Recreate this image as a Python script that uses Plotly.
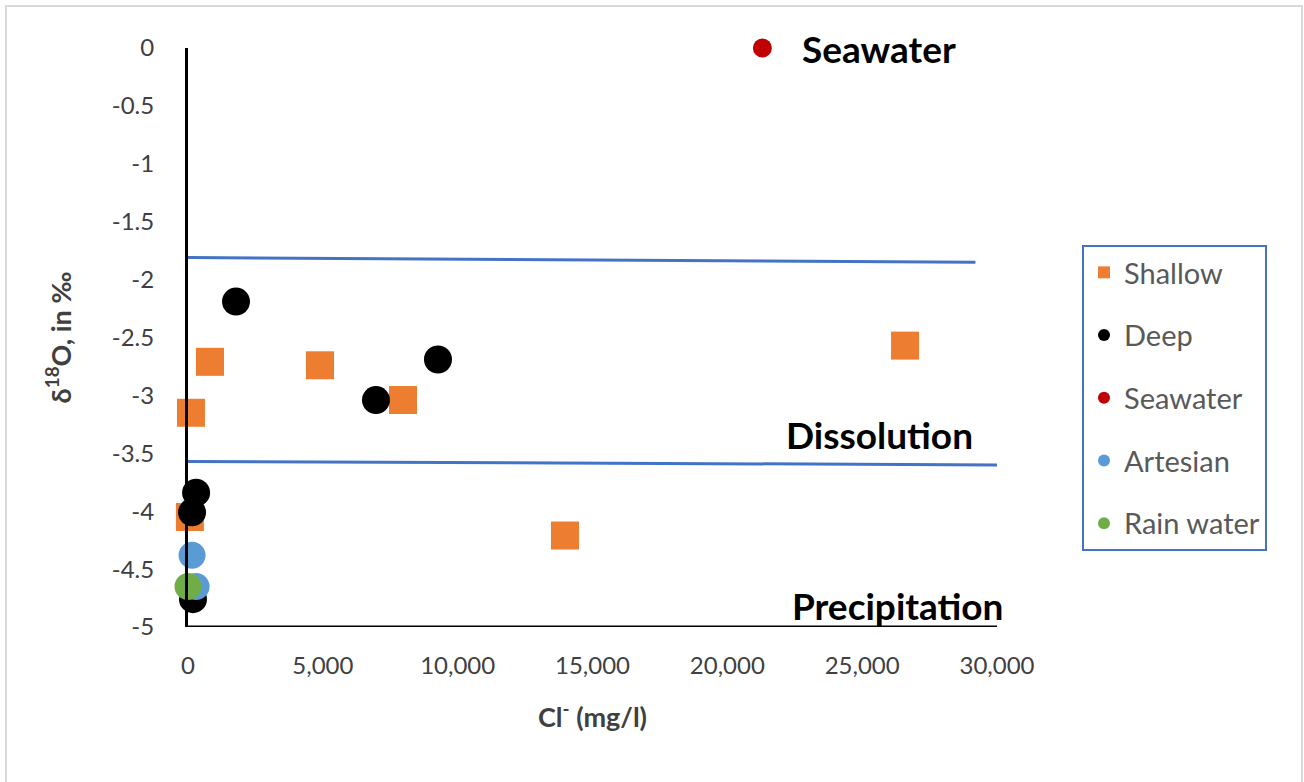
import plotly.graph_objects as go

# ---- data ----
shallow_x = [110, 816, 4895, 7973, 13980, 26590, 70]
shallow_y = [-3.15, -2.71, -2.74, -3.04, -4.21, -2.57, -4.05]

deep_x = [1780, 6970, 9270, 300, 150, 185]
deep_y = [-2.19, -3.04, -2.69, -3.84, -4.01, -4.76]

seawater_x = [21300]
seawater_y = [0.0]

artesian_x = [150, 300]
artesian_y = [-4.38, -4.65]

rain_x = [0]
rain_y = [-4.65]

upper_line_x = [0, 29200]
upper_line_y = [-1.81, -1.85]
lower_line_x = [0, 30000]
lower_line_y = [-3.57, -3.60]

x_ticks = [0, 5000, 10000, 15000, 20000, 25000, 30000]
y_ticks = [0, -0.5, -1, -1.5, -2, -2.5, -3, -3.5, -4, -4.5, -5]
y_tick_text = ["0", "-0.5", "-1", "-1.5", "-2", "-2.5", "-3", "-3.5", "-4", "-4.5", "-5"]

# ---- layout geometry ----
W, H = 1304, 782
L, R, T, B = 188, 307, 48, 155
PW, PH = W - L - R, H - T - B

def px(x):
    return (x - L) / PW

def py(y):
    return 1 - (y - T) / PH

FONT = "Lato"
BLUE = "#4472C4"
ORANGE = "#ED7D31"
TXT = "#404040"

fig = go.Figure()

fig.add_trace(go.Scatter(x=upper_line_x, y=upper_line_y, mode="lines",
                         line=dict(color=BLUE, width=3), showlegend=False, hoverinfo="skip"))
fig.add_trace(go.Scatter(x=lower_line_x, y=lower_line_y, mode="lines",
                         line=dict(color=BLUE, width=3), showlegend=False, hoverinfo="skip"))

fig.add_trace(go.Scatter(x=shallow_x, y=shallow_y, mode="markers", name="Shallow",
                         legendgroup="a",
                         marker=dict(symbol="square", size=28, color=ORANGE)))
fig.add_trace(go.Scatter(x=deep_x, y=deep_y, mode="markers", name="Deep",
                         legendgroup="b",
                         marker=dict(symbol="circle", size=28, color="black")))
fig.add_trace(go.Scatter(x=seawater_x, y=seawater_y, mode="markers", name="Seawater",
                         legendgroup="c",
                         marker=dict(symbol="circle", size=19, color="#C00000")))
fig.add_trace(go.Scatter(x=artesian_x, y=artesian_y, mode="markers", name="Artesian",
                         legendgroup="d",
                         marker=dict(symbol="circle", size=27, color="#5B9BD5")))
fig.add_trace(go.Scatter(x=rain_x, y=rain_y, mode="markers", name="Rain water",
                         legendgroup="e",
                         marker=dict(symbol="circle", size=27, color="#70AD47")))

for tr in fig.data:
    tr.cliponaxis = False

LBL = dict(family=FONT, size=37, color="black")
annotations = [
    dict(x=px(800), y=py(48), xref="paper", yref="paper", text="<b>Seawater</b>", showarrow=False,
         xanchor="left", yanchor="middle", font=LBL),
    dict(x=px(975), y=py(434), xref="paper", yref="paper", text="<b>Dissolution</b>", showarrow=False,
         xanchor="right", yanchor="middle", font=LBL),
    dict(x=px(1006), y=py(605), xref="paper", yref="paper", text="<b>Precipitation</b>", showarrow=False,
         xanchor="right", yanchor="middle", font=LBL),
]

shapes = [
    dict(type="rect", xref="paper", yref="paper", x0=px(6), x1=px(1302), y0=py(6), y1=py(790),
         line=dict(color="#D9D9D9", width=2), fillcolor="rgba(0,0,0,0)", layer="below"),
]

fig.update_layout(
    width=W, height=H,
    margin=dict(l=L, r=R, t=T, b=B),
    paper_bgcolor="white", plot_bgcolor="white",
    font=dict(family=FONT, size=24, color=TXT),
    xaxis=dict(range=[0, 30000], tickvals=x_ticks, tickformat=",d",
               showgrid=False, zeroline=False, showline=False,
               ticks="", ticklabelstandoff=22,
               tickfont=dict(family=FONT, size=24, color=TXT),
               title=dict(text="<b>Cl<sup>-</sup> (mg/l)</b>", standoff=30,
                          font=dict(family=FONT, size=27, color=TXT))),
    yaxis=dict(range=[-5, 0], tickvals=y_ticks, ticktext=y_tick_text,
               showgrid=False, zeroline=False, showline=True, linecolor="black", linewidth=3,
               ticks="", ticklabelstandoff=26,
               tickfont=dict(family=FONT, size=24, color=TXT),
               title=dict(text="<b>δ<sup>18</sup>O, in ‰</b>", standoff=33,
                          font=dict(family=FONT, size=27, color=TXT))),
    legend=dict(x=px(1082), y=py(245), xanchor="left", yanchor="top",
                bordercolor=BLUE, borderwidth=2, bgcolor="white",
                font=dict(family=FONT, size=29, color="#595959"),
                itemsizing="constant", tracegroupgap=22,
                traceorder="grouped"),
    annotations=annotations,
    shapes=shapes,
)

fig.add_shape(type="line", xref="x", yref="y", x0=-150, x1=30100, y0=-5, y1=-5,
              line=dict(color="black", width=3))

fig.write_html("out.html")
